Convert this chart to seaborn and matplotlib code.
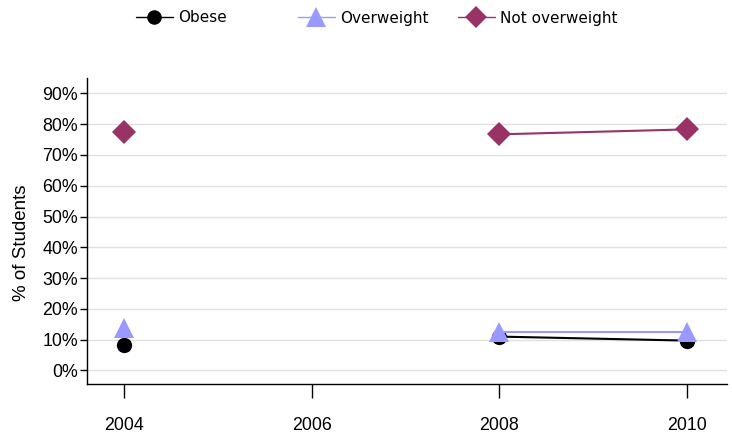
import numpy as np
import pandas as pd
import matplotlib
matplotlib.use("Agg")
import matplotlib.pyplot as plt
from matplotlib.lines import Line2D
import seaborn as sns

years = [2004, 2006, 2008, 2010]
obese = [8.3, np.nan, 11.0, 9.7]
overweight = [13.9, np.nan, 12.6, 12.6]
not_overweight = [77.4, np.nan, 76.7, 78.3]
series_names = ["Obese", "Overweight", "Not overweight"]
y_ticks = [0, 10, 20, 30, 40, 50, 60, 70, 80, 90]
y_labels = [f"{v}%" for v in y_ticks]

colors = {"Obese": "#000000", "Overweight": "#9999ff", "Not overweight": "#993366"}
markers = {"Obese": "o", "Overweight": "^", "Not overweight": "D"}
msizes = {"Obese": 11, "Overweight": 15, "Not overweight": 12}

sns.set_theme(style="white")
plt.rcParams["font.family"] = ["Liberation Sans", "DejaVu Sans"]
plt.rcParams["text.color"] = "black"
plt.rcParams["axes.labelcolor"] = "black"
plt.rcParams["xtick.color"] = "black"
plt.rcParams["ytick.color"] = "black"

fig = plt.figure(figsize=(7.32, 4.38), dpi=100)
ax = fig.add_axes([87 / 732, 1 - 384 / 438, (727 - 87) / 732, (384 - 78) / 438])

for name, vals in zip(series_names, [obese, overweight, not_overweight]):
    df = pd.DataFrame({"year": years, "pct": vals})
    df["seg"] = df["pct"].isna().cumsum()
    df = df.dropna()
    sns.lineplot(data=df, x="year", y="pct", units="seg", estimator=None,
                 color=colors[name], marker=markers[name], markersize=msizes[name],
                 markeredgewidth=0, linewidth=1.5, ax=ax, legend=False)

ax.set_xlim(2003.6, 2010.43)
ax.set_ylim(-4.4, 95)
ax.set_xticks(years)
ax.set_xticklabels([str(y) for y in years], fontsize=12.8)
ax.set_yticks(y_ticks)
ax.set_yticklabels(y_labels, fontsize=12.8)
ax.set_xlabel("")
ax.set_ylabel("% of Students", fontsize=13.5)
ax.yaxis.set_label_coords((30 - 87) / 640, (384 - 243) / 306)
ax.yaxis.grid(True, color="#e0e0e0", linewidth=1)
ax.xaxis.grid(False)
ax.set_axisbelow(True)
for s in ["top", "right"]:
    ax.spines[s].set_visible(False)
for s in ["left", "bottom"]:
    ax.spines[s].set_color("black")
    ax.spines[s].set_linewidth(1)
ax.tick_params(axis="x", which="major", bottom=True, length=10, width=1, color="black", pad=14)
ax.tick_params(axis="y", which="major", left=True, length=5, width=1, color="black", pad=1.5)

legend_x = [136, 298, 458]
for name, lx in zip(series_names, legend_x):
    h = Line2D([], [], color=colors[name], marker=markers[name],
               markersize=msizes[name] * 0.95, markeredgewidth=0, linewidth=1)
    fig.legend(handles=[h], labels=[name], loc="center left",
               bbox_to_anchor=(lx / 732, 1 - 18 / 438), frameon=False,
               borderpad=0, borderaxespad=0, handlelength=2.4, handletextpad=0.35,
               prop={"family": "DejaVu Sans", "size": 11})

fig.savefig("out.png", dpi=100)
